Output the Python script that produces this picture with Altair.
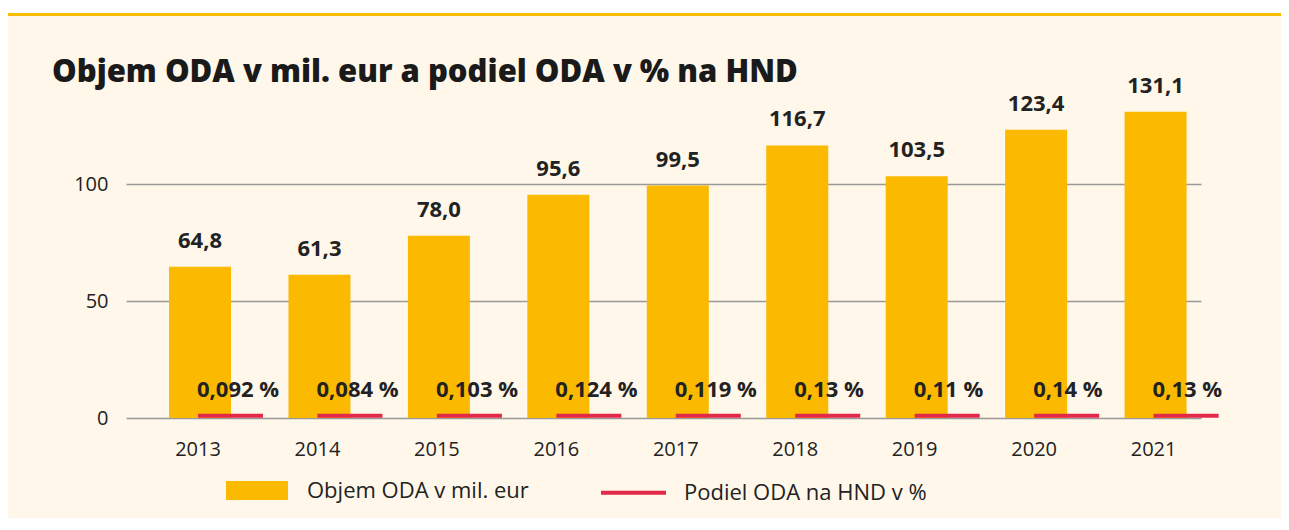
import altair as alt
import pandas as pd

# ---- data ----
years = ["2013", "2014", "2015", "2016", "2017", "2018", "2019", "2020", "2021"]
oda_volume = [64.8, 61.3, 78.0, 95.6, 99.5, 116.7, 103.5, 123.4, 131.1]
oda_share = [0.092, 0.084, 0.103, 0.124, 0.119, 0.13, 0.11, 0.14, 0.13]
series_names = ["Objem ODA v mil. eur", "Podiel ODA na HND v %"]
y_ticks = [0, 50, 100]
title_text = "Objem ODA v mil. eur a podiel ODA v % na HND"

# ---- style ----
YELLOW = "#FBB900"
RED = "#E3294A"
BG = "#FEF7EA"
TEXT = "#222222"
FONT = "Open Sans"

vol_df = pd.DataFrame({"year": years, "value": oda_volume, "series": series_names[0]})
pct_df = pd.DataFrame({"year": years, "value": oda_share, "series": series_names[1]})
title_df = pd.DataFrame({"t": [title_text]})
one_df = pd.DataFrame({"k": [0]})

x_enc = alt.X(
    "year:N",
    sort=years,
    title=None,
    scale=alt.Scale(paddingInner=0, paddingOuter=0),
    axis=alt.Axis(
        domain=False, ticks=False, tickSize=0, grid=False,
        labelFont=FONT, labelFontSize=20, labelColor=TEXT,
        labelPadding=21, labelOffset=12.3, labelAngle=0,
    ),
)
y_enc = alt.Y(
    "value:Q",
    title=None,
    scale=alt.Scale(domain=[0, 140], nice=False),
    axis=alt.Axis(
        values=y_ticks, domain=False, ticks=False, tickSize=0,
        grid=True, gridColor="#9A9A9A", gridWidth=1.3,
        labelFont=FONT, labelFontSize=20, labelColor=TEXT, labelPadding=18,
    ),
)

legend_common = dict(
    title=None, orient="none", direction="horizontal", padding=0,
    labelFont=FONT, labelFontSize=22, labelColor=TEXT, labelLimit=400,
    symbolStrokeWidth=0, symbolOpacity=1,
)

bar_color = alt.Color(
    "series:N",
    scale=alt.Scale(domain=[series_names[0]], range=[YELLOW]),
    legend=alt.Legend(
        legendX=100, legendY=368.5, symbolSize=3844,
        symbolType="M-1,-0.306H1V0.306H-1Z", labelOffset=19, **legend_common,
    ),
)
tick_color = alt.Color(
    "series:N",
    scale=alt.Scale(domain=[series_names[1]], range=[RED]),
    legend=alt.Legend(
        legendX=475, legendY=369.2, symbolSize=4225,
        symbolType="M-1,-0.062H1V0.062H-1Z", labelOffset=18, **legend_common,
    ),
)

bars = alt.Chart(vol_df).mark_bar(size=62, xOffset=14.3).encode(
    x=x_enc, y=y_enc, color=bar_color
)

ticks = alt.Chart(pct_df).mark_tick(
    size=65, thickness=4, xOffset=44.8, yOffset=-2, opacity=1
).encode(x=x_enc, y=y_enc, color=tick_color)

vol_labels = alt.Chart(vol_df).transform_calculate(
    label="replace(format(datum.value, '.1f'), '.', ',')"
).mark_text(
    font=FONT, fontSize=22, fontWeight="bold", color=TEXT,
    align="center", baseline="alphabetic", xOffset=14.3, dy=-19,
).encode(x=x_enc, y=y_enc, text="label:N")

pct_labels = alt.Chart(pct_df).transform_calculate(
    label="replace(toString(datum.value), '.', ',') + ' %'"
).mark_text(
    font=FONT, fontSize=22, fontWeight="bold", color=TEXT,
    align="left", baseline="alphabetic", xOffset=11.3, dy=-21,
).encode(x=x_enc, y=y_enc, text="label:N")

title = alt.Chart(title_df).mark_text(
    font=FONT, fontSize=31, fontWeight=800, color="#1A1A1A",
    align="left", baseline="alphabetic",
).encode(text="t:N", x=alt.value(-74), y=alt.value(-9.3))

white_strip = alt.Chart(one_df).mark_rule(color="white", strokeWidth=5).encode(
    x=alt.value(-200), x2=alt.value(1300), y=alt.value(-80.5)
)
top_line = alt.Chart(one_df).mark_rule(color="#F9BE00", strokeWidth=3).encode(
    x=alt.value(-200), x2=alt.value(1300), y=alt.value(-76.5)
)

chart = alt.layer(
    white_strip, top_line, bars, ticks, vol_labels, pct_labels, title
).resolve_scale(color="independent").properties(
    width=1075, height=327,
    autosize=alt.AutoSizeParams(type="none"),
    padding={"left": 118, "top": 83, "right": 80, "bottom": 100},
    background=BG,
).configure_view(stroke=None)

chart.save("out.html", embed_options={"renderer": "svg", "actions": False})
